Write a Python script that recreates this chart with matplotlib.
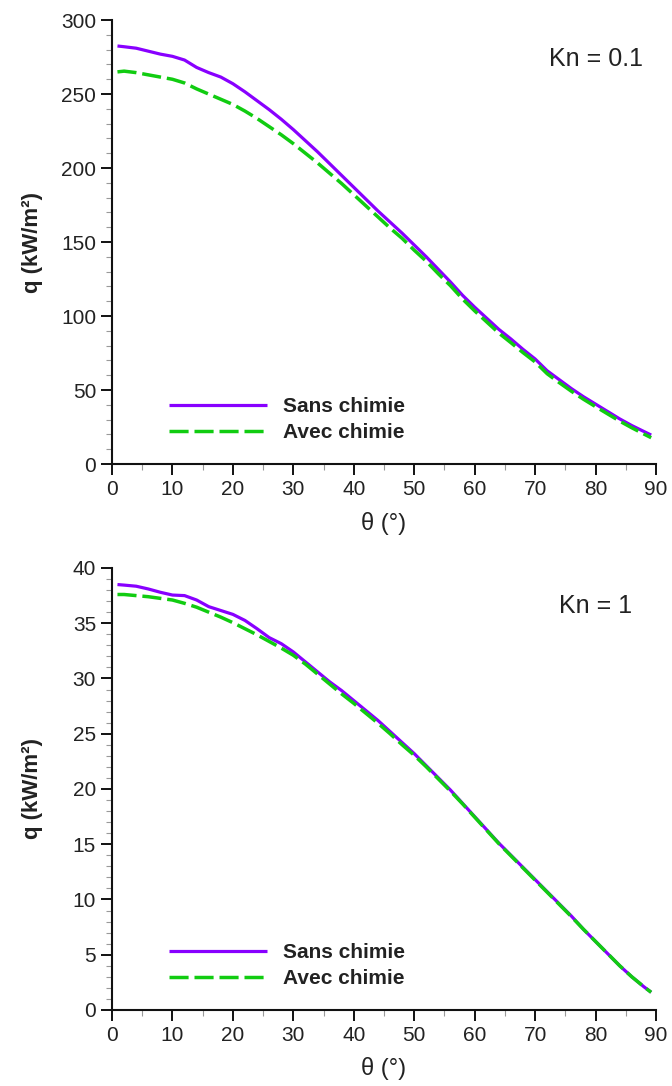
import matplotlib
matplotlib.use("Agg")
import matplotlib.pyplot as plt
from matplotlib.ticker import MultipleLocator

plt.rcParams['font.family'] = ['Liberation Sans', 'DejaVu Sans']

# ---- data ----
theta = [0.9, 2, 4, 6, 8, 10, 12, 14, 16, 18, 20, 22, 24, 26, 28, 30, 32, 34, 36, 38,
         40, 42, 44, 46, 48, 50, 52, 54, 56, 58, 60, 62, 64, 66, 68, 70, 72, 74, 76, 78,
         80, 82, 84, 86, 88, 89.2]

sans_kn01 = [282.5, 282, 281, 279, 277, 275.5, 273, 268, 264.5, 261.5, 257, 251.5, 245.5,
             239.5, 233, 226, 218.5, 211, 203, 195, 187, 179, 171, 163.5, 156, 148, 140,
             131.5, 123, 114, 106, 98.5, 91, 84.5, 77.5, 71, 63, 57, 51, 45.5, 40.5, 35.5,
             30.5, 26, 22, 19.6]
avec_kn01 = [265, 265.5, 264.5, 263, 261.5, 260, 257.5, 253.5, 250, 246.5, 243, 238.5, 233.5,
             228, 222.5, 216.5, 210, 203.5, 196.5, 189.5, 182, 174.5, 167, 159.5, 152.5,
             144.5, 137, 128.5, 120.5, 111.5, 103.5, 96, 88.5, 82, 75.3, 69, 61, 55, 49.2,
             43.8, 38.8, 33.9, 29, 24.5, 20.3, 17.8]

sans_kn1 = [38.5, 38.45, 38.35, 38.1, 37.8, 37.55, 37.5, 37.1, 36.5, 36.15, 35.8, 35.25,
            34.5, 33.7, 33.15, 32.4, 31.5, 30.6, 29.7, 28.9, 28.0, 27.1, 26.2, 25.2, 24.2,
            23.2, 22.1, 21.0, 19.9, 18.7, 17.5, 16.3, 15.1, 14.0, 12.9, 11.8, 10.7, 9.6,
            8.5, 7.3, 6.2, 5.1, 4.0, 3.0, 2.1, 1.6]
avec_kn1 = [37.6, 37.6, 37.5, 37.4, 37.25, 37.1, 36.8, 36.45, 36.0, 35.55, 35.05, 34.5,
            33.95, 33.35, 32.75, 32.1, 31.3, 30.4, 29.5, 28.6, 27.75, 26.85, 25.95, 25.0,
            24.0, 23.05, 22.0, 20.9, 19.8, 18.65, 17.45, 16.25, 15.05, 13.95, 12.85, 11.75,
            10.65, 9.55, 8.45, 7.3, 6.2, 5.1, 4.0, 3.0, 2.1, 1.6]

labels = ["Sans chimie", "Avec chimie"]
kn_labels = ["Kn = 0.1", "Kn = 1"]
xlabel = "θ (°)"
ylabel = "q (kW/m²)"

PURPLE = "#8800ff"
GREEN = "#11cc11"
TXT = "#222222"

fig = plt.figure(figsize=(6.72, 10.86), dpi=100)
ax1 = fig.add_axes([0.1667, 0.5727, 0.8095, 0.4088])
ax2 = fig.add_axes([0.1667, 0.0700, 0.8095, 0.4070])

panels = [
    (ax1, sans_kn01, avec_kn01, 300, 50, 10, kn_labels[0], 274),
    (ax2, sans_kn1, avec_kn1, 40, 5, 1, kn_labels[1], 36.6),
]

for ax, s, a, ymax, ymaj, ymin, kn, kny in panels:
    ax.plot(theta, s, color=PURPLE, lw=2.3, solid_capstyle='butt', label=labels[0])
    ax.plot(theta, a, color=GREEN, lw=2.5, dashes=(5.5, 1.7), label=labels[1])
    ax.set_xlim(0, 90)
    ax.set_ylim(0, ymax)
    ax.xaxis.set_major_locator(MultipleLocator(10))
    ax.xaxis.set_minor_locator(MultipleLocator(5))
    ax.yaxis.set_major_locator(MultipleLocator(ymaj))
    ax.yaxis.set_minor_locator(MultipleLocator(ymin))
    for sp in ("top", "right"):
        ax.spines[sp].set_visible(False)
    for sp in ("left", "bottom"):
        ax.spines[sp].set_linewidth(1.5)
        ax.spines[sp].set_color("#111111")
    ax.tick_params(which='major', direction='out', length=8, width=1.4,
                   color="#111111", labelsize=15, labelcolor=TXT, pad=3.5)
    ax.tick_params(which='minor', direction='out', length=4, width=0.8, color="#999999")
    ax.set_xlabel(xlabel, fontsize=17, color=TXT, va='center')
    ax.xaxis.set_label_coords(0.5, -0.133)
    ax.set_ylabel(ylabel, fontsize=16, fontweight='bold', color=TXT, va='center')
    ax.yaxis.set_label_coords(-0.147, 0.5)
    ax.text(80, kny, kn, ha='center', va='center', fontsize=18, color=TXT)
    leg = ax.legend(loc='lower left', bbox_to_anchor=(0.1048, 0.05), frameon=False,
                    borderpad=0, borderaxespad=0, handlelength=4.7, handletextpad=0.75,
                    labelspacing=0.33, prop={'size': 15, 'weight': 'bold'})
    for t in leg.get_texts():
        t.set_color(TXT)

fig.savefig("out.png", dpi=100)
